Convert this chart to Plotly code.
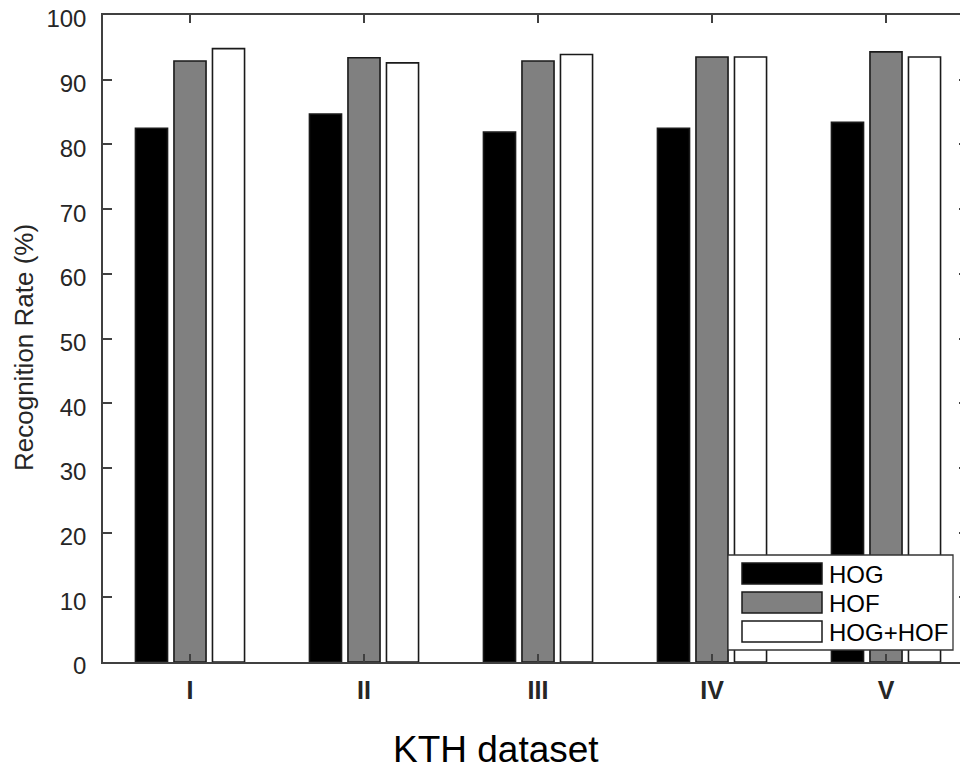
import plotly.graph_objects as go

categories = ["I", "II", "III", "IV", "V"]
hog = [82.5, 84.7, 81.9, 82.5, 83.4]
hof = [92.9, 93.4, 92.9, 93.5, 94.3]
hog_hof = [94.8, 92.6, 93.9, 93.5, 93.5]
y_ticks = [0, 10, 20, 30, 40, 50, 60, 70, 80, 90, 100]

series = [("HOG", hog, "#000000"), ("HOF", hof, "#808080"), ("HOG+HOF", hog_hof, "#ffffff")]

FONT = "Arial, Liberation Sans, Helvetica, sans-serif"
OFF = 8  # page body margin
W, H = 968 - OFF, 769 - OFF
L, T, R = 103 - OFF, 15 - OFF, 0
B = H - (662 - OFF)
PW, PH = W - L - R, H - T - B

x_pos = list(range(1, len(categories) + 1))

fig = go.Figure()
for name, vals, col in series:
    fig.add_trace(go.Bar(
        x=x_pos, y=vals, name=name,
        marker=dict(color=col, line=dict(color="#1a1a1a", width=1.6)),
        showlegend=False,
    ))


def px_x(p):
    return (p - OFF - L) / PW


def px_y(p):
    return (H - B - (p - OFF)) / PH


shapes = []
annotations = []
# legend box
shapes.append(dict(type="rect", xref="paper", yref="paper",
                   x0=px_x(728), x1=px_x(953), y0=px_y(650), y1=px_y(555),
                   fillcolor="white", line=dict(color="#333333", width=1.3), layer="above"))
sw_top = [563, 592, 621]
for (name, vals, col), top in zip(series, sw_top):
    shapes.append(dict(type="rect", xref="paper", yref="paper",
                       x0=px_x(742), x1=px_x(822), y0=px_y(top + 21), y1=px_y(top),
                       fillcolor=col, line=dict(color="#1a1a1a", width=1.5), layer="above"))
    annotations.append(dict(text=name, xref="paper", yref="paper",
                            x=px_x(827), y=px_y(top + 11), xanchor="left", yanchor="middle",
                            showarrow=False, font=dict(family=FONT, size=24, color="#000000")))

# axis titles
annotations.append(dict(text="KTH dataset", xref="paper", yref="paper",
                        x=px_x(496), y=px_y(749), xanchor="center", yanchor="middle",
                        showarrow=False, font=dict(family=FONT, size=37, color="#000000")))
annotations.append(dict(text="Recognition Rate (%)", xref="paper", yref="paper",
                        x=px_x(24), y=px_y(348), xanchor="center", yanchor="middle",
                        textangle=-90,
                        showarrow=False, font=dict(family=FONT, size=26, color="#262626")))

fig.update_layout(
    width=W, height=H,
    margin=dict(l=L, r=R, t=T, b=B, autoexpand=False),
    paper_bgcolor="white", plot_bgcolor="white",
    barmode="group", bargap=0.336, bargroupgap=0.167,
    showlegend=False,
    shapes=shapes, annotations=annotations,
    font=dict(family=FONT, color="#262626"),
)
fig.update_xaxes(
    range=[0.5, 0.5 + PW / 174.0],
    tickmode="array", tickvals=x_pos,
    ticktext=["<b>%s</b>" % c for c in categories],
    tickfont=dict(family=FONT, size=25, color="#262626"),
    ticks="inside", ticklen=8, tickwidth=1.5, tickcolor="#404040",
    showline=True, linecolor="#404040", linewidth=1.5, mirror="allticks",
    showgrid=False, zeroline=False, automargin=False,
    ticklabelstandoff=5, ticklabeloverflow="allow",
)
fig.update_yaxes(
    range=[0, 100],
    tickmode="array", tickvals=y_ticks,
    tickfont=dict(family=FONT, size=24, color="#262626"),
    ticks="inside", ticklen=9, tickwidth=1.5, tickcolor="#404040",
    showline=True, linecolor="#404040", linewidth=1.5, mirror="ticks",
    showgrid=False, zeroline=False, automargin=False,
    ticklabelstandoff=10, ticklabeloverflow="allow", ticklabelshift=4,
)

fig.write_html("out.html")
